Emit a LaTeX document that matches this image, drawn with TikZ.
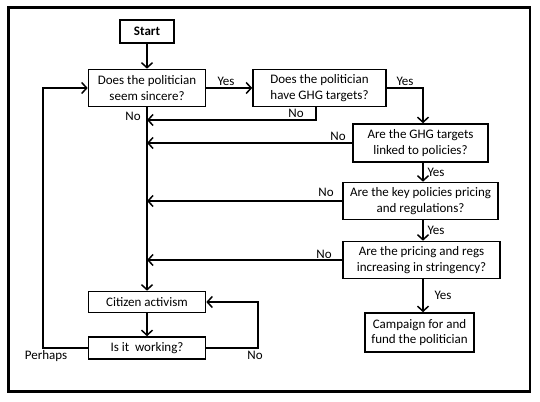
\documentclass[tikz,border=0pt]{standalone}
\usepackage{fontspec}
\setmainfont{Carlito}
\usetikzlibrary{arrows.meta}
\begin{document}
\begin{tikzpicture}[x=1pt,y=-1pt,
  box/.style={draw, line width=1.6pt, align=center, inner sep=0pt, font=\fontsize{13}{15.5}\selectfont},
  lab/.style={inner sep=0pt, font=\fontsize{13}{15}\selectfont},
  conn/.style={line width=1.5pt},
  arr/.style={conn, -{Straight Barb[length=5pt,width=11pt,line width=1.5pt]}}]
\useasboundingbox (0,0) rectangle (540,401);
\draw[line width=2.8pt] (8.7,7.5) rectangle (530,391.5);
\node[box, minimum width=54pt, minimum height=23pt, font=\fontsize{13}{15}\selectfont\bfseries] (start) at (147,31.5) {Start};
\node[box, minimum width=117pt, minimum height=37pt] (sincere) at (147,88) {Does the politician\\seem sincere?};
\node[box, minimum width=133pt, minimum height=37pt] (ghg) at (319.5,88) {Does the politician\\have GHG targets?};
\node[box, minimum width=135pt, minimum height=38pt] (linked) at (420.5,143) {Are the GHG targets\\linked to policies?};
\node[box, minimum width=155pt, minimum height=37pt] (key) at (420.5,201) {Are the key policies pricing\\and regulations?};
\node[box, minimum width=157pt, minimum height=37pt] (pricing) at (421.5,260) {Are the pricing and regs\\increasing in stringency?};
\node[box, minimum width=109pt, minimum height=39pt] (campaign) at (419.5,332.5) {Campaign for and\\fund the politician};
\node[box, minimum width=117pt, minimum height=21pt] (citizen) at (147,302) {Citizen activism};
\node[box, minimum width=117pt, minimum height=22pt] (working) at (147,348) {Is it\ \ working?};
\coordinate (colx) at (423,0);
\coordinate (ghgdown) at (316,120);
\coordinate (noloop) at (258,348);
\coordinate (perloop) at (43,348);
% connectors
\draw[arr] (start.south) -- (sincere.north);
\draw[arr] (sincere.east) -- (ghg.west);
\draw[arr] (ghg.east) -| (linked.north -| colx);
\draw[arr] (linked.south -| colx) -- (key.north -| colx);
\draw[arr] (key.south -| colx) -- (pricing.north -| colx);
\draw[arr] (pricing.south -| colx) -- (campaign.north -| colx);
\draw[arr] (ghg.south -| ghgdown) -- (ghgdown) -- (ghgdown -| sincere.south);
\draw[arr] (linked.west) -- (linked.west -| sincere.south);
\draw[arr] (key.west) -- (key.west -| sincere.south);
\draw[arr] (pricing.west) -- (pricing.west -| sincere.south);
\draw[arr] (sincere.south) -- (citizen.north);
\draw[arr] (citizen.south) -- (working.north);
\draw[arr] (working.east) -- (noloop) |- (citizen.east);
\draw[arr] (working.west) -- (perloop) |- (sincere.west);
% labels
\node[lab] (l1) at (226,81) {Yes};
\node[lab] (l2) at (405,81) {Yes};
\node[lab] (l3) at (296,113) {No};
\node[lab] (l4) at (133,116) {No};
\node[lab] (l5) at (338,136) {No};
\node[lab] (l6) at (436,172) {Yes};
\node[lab] (l7) at (326,192) {No};
\node[lab] (l8) at (436,230) {Yes};
\node[lab] (l9) at (324,254) {No};
\node[lab] (l10) at (443,295) {Yes};
\node[lab] (l11) at (255,355) {No};
\node[lab] (l12) at (46,356) {Perhaps};
\end{tikzpicture}
\end{document}
